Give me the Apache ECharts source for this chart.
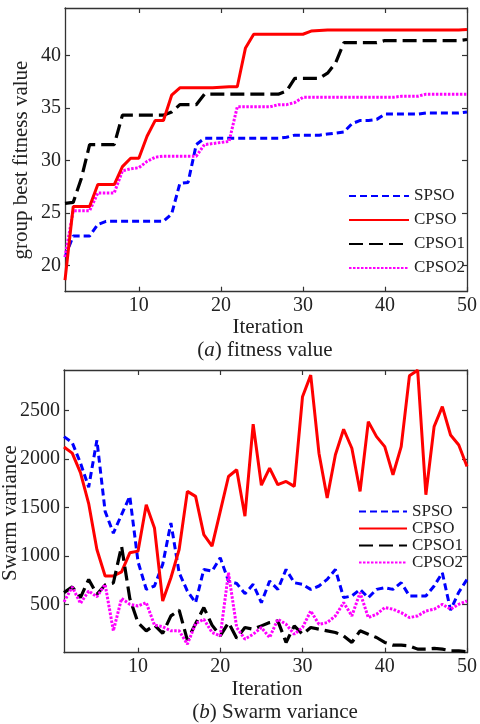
<!DOCTYPE html>
<html>
<head>
<meta charset="utf-8">
<script src="https://cdn.jsdelivr.net/npm/echarts@6/dist/echarts.min.js"></script>
<style>
  html, body { margin: 0; padding: 0; background: #fff; }
  #chart { width: 480px; height: 724px; }
</style>
</head>
<body>
<div id="chart"></div>
<script>
// 迭代次数
var iterations = [1, 2, 3, 4, 5, 6, 7, 8, 9, 10, 11, 12, 13, 14, 15, 16, 17, 18, 19, 20,
  21, 22, 23, 24, 25, 26, 27, 28, 29, 30, 31, 32, 33, 34, 35, 36, 37, 38, 39, 40,
  41, 42, 43, 44, 45, 46, 47, 48, 49, 50];
var seriesNames = ["SPSO", "CPSO", "CPSO1", "CPSO2"];
var xTicks = [10, 20, 30, 40, 50];
var fitTicks = [20, 25, 30, 35, 40];
var varTicks = [500, 1000, 1500, 2000, 2500];

// (a) fitness value
var fitSPSO = [20.8, 22.8, 22.8, 22.8, 23.9, 24.2, 24.2, 24.2, 24.2, 24.2, 24.2, 24.2, 24.2, 24.9, 27.8,
  27.9, 31.5, 32.1, 32.1, 32.1, 32.1, 32.1, 32.1, 32.1, 32.1, 32.1, 32.1, 32.2, 32.4, 32.4,
  32.4, 32.4, 32.5, 32.6, 32.7, 33.5, 33.8, 33.8, 33.9, 34.4, 34.4, 34.4, 34.4, 34.4, 34.5,
  34.5, 34.5, 34.5, 34.5, 34.6];
var fitCPSO = [18.6, 25.6, 25.6, 25.6, 27.7, 27.7, 27.7, 29.4, 30.2, 30.2, 32.3, 33.8, 33.8, 36.2, 36.9,
  36.9, 36.9, 36.9, 36.9, 36.95, 37.0, 37.0, 40.7, 42.0, 42.0, 42.0, 42.0, 42.0, 42.0, 42.0,
  42.3, 42.35, 42.4, 42.4, 42.4, 42.4, 42.4, 42.4, 42.4, 42.4, 42.4, 42.4, 42.4, 42.4, 42.4,
  42.4, 42.4, 42.4, 42.4, 42.45];
var fitCPSO1 = [25.9, 26.0, 28.3, 31.5, 31.5, 31.5, 31.5, 34.3, 34.3, 34.3, 34.3, 34.3, 34.3, 34.6, 35.3,
  35.3, 35.3, 36.3, 36.3, 36.3, 36.3, 36.3, 36.3, 36.3, 36.3, 36.3, 36.3, 36.6, 37.8, 37.8,
  37.8, 37.8, 38.3, 39.3, 41.2, 41.2, 41.2, 41.2, 41.2, 41.4, 41.4, 41.4, 41.4, 41.4, 41.4,
  41.4, 41.4, 41.4, 41.4, 41.5];
var fitCPSO2 = [20.8, 25.2, 25.2, 25.2, 26.9, 26.9, 26.9, 29.0, 29.2, 29.3, 29.9, 30.3, 30.4, 30.4, 30.4,
  30.4, 30.4, 31.5, 31.6, 31.7, 31.8, 35.1, 35.1, 35.1, 35.1, 35.1, 35.3, 35.3, 35.5, 36.0,
  36.0, 36.0, 36.0, 36.0, 36.0, 36.0, 36.0, 36.0, 36.0, 36.0, 36.0, 36.1, 36.1, 36.1, 36.3,
  36.3, 36.3, 36.3, 36.3, 36.3];

// (b) Swarm variance
var varSPSO = [2232, 2170, 1960, 1710, 2195, 1460, 1235, 1426, 1615, 940, 655, 689, 912, 1340, 826,
  637, 517, 860, 843, 980, 740, 715, 610, 706, 517, 740, 654, 860, 723, 706,
  654, 689, 757, 860, 569, 586, 654, 569, 654, 672, 654, 723, 586, 586, 586,
  689, 826, 440, 625, 757];
var varCPSO = [2125, 2061, 1860, 1540, 1066, 792, 792, 835, 1032, 1049, 1529, 1289, 534, 774, 1066,
  1666, 1615, 1220, 1100, 1460, 1820, 1890, 1410, 2360, 1730, 1906, 1735, 1769, 1718, 2644,
  2867, 2061, 1598, 2044, 2308, 2112, 1666, 2387, 2232, 2129, 1838, 2129, 2860, 2918, 1632,
  2335, 2541, 2249, 2146, 1923];
var varCPSO1 = [620, 680, 569, 757, 603, 700, 720, 1100, 560, 311, 226, 285, 200, 380, 440,
  130, 300, 466, 285, 174, 311, 150, 260, 243, 277, 311, 329, 106, 277, 191,
  260, 243, 226, 209, 174, 106, 226, 191, 157, 106, 78, 78, 71, 37, 37,
  44, 37, 20, 20, 10];
var varCPSO2 = [525, 680, 509, 637, 578, 706, 226, 560, 500, 483, 517, 285, 268, 226, 226,
  88, 300, 346, 209, 174, 826, 260, 140, 191, 260, 157, 346, 294, 191, 260,
  431, 294, 311, 380, 517, 380, 620, 363, 397, 466, 449, 414, 363, 380, 431,
  449, 500, 449, 500, 534];

var font = "Liberation Serif";
var axisColor = "#333";

var styles = [
  { color: "#0000ff", width: 3, type: [7, 4] },
  { color: "#ff0000", width: 3, type: "solid" },
  { color: "#000000", width: 3.2, type: [14, 6] },
  { color: "#ff00ff", width: 3, type: [2.5, 1.5] }
];

function pairs(arr) {
  return iterations.map(function(x, k) {
    return [x, arr[k]];
  });
}

function xAxis(grid, pos) {
  return {
    gridIndex: grid,
    type: "value",
    position: pos,
    min: 1,
    max: 50,
    axisLine: { show: true, onZero: false, lineStyle: { color: axisColor, width: 1.3 } },
    axisTick: { show: true, inside: true, length: 5, customValues: xTicks, lineStyle: { color: axisColor, width: 1.2 } },
    axisLabel: {
      show: pos === "bottom",
      customValues: xTicks,
      fontFamily: font,
      fontSize: 20,
      color: "#222",
      margin: 4
    },
    splitLine: { show: false }
  };
}

function yAxis(grid, pos, min, max, ticks) {
  return {
    gridIndex: grid,
    type: "value",
    position: pos,
    min: min,
    max: max,
    axisLine: { show: true, onZero: false, lineStyle: { color: axisColor, width: 1.3 } },
    axisTick: { show: true, inside: true, length: 5, customValues: ticks, lineStyle: { color: axisColor, width: 1.2 } },
    axisLabel: {
      show: pos === "left",
      customValues: ticks,
      formatter: function(v) { return String(v); },
      fontFamily: font,
      fontSize: 20,
      color: "#222",
      margin: 4
    },
    splitLine: { show: false }
  };
}

var fitData = [fitSPSO, fitCPSO, fitCPSO1, fitCPSO2];
var varData = [varSPSO, varCPSO, varCPSO1, varCPSO2];
var series = [];
seriesNames.forEach(function(name, k) {
  series.push({
    name: name,
    type: "line",
    xAxisIndex: 0,
    yAxisIndex: 0,
    symbol: "none",
    animation: false,
    itemStyle: { color: styles[k].color },
    lineStyle: styles[k],
    z: k === 1 ? 3 : 2,
    data: pairs(fitData[k])
  });
});
seriesNames.forEach(function(name, k) {
  series.push({
    name: name,
    type: "line",
    xAxisIndex: 2,
    yAxisIndex: 2,
    symbol: "none",
    animation: false,
    itemStyle: { color: styles[k].color },
    lineStyle: styles[k],
    data: pairs(varData[k])
  });
});

function label(text, x, y, rot) {
  return {
    type: "text",
    x: x,
    y: y,
    rotation: rot || 0,
    style: {
      text: text,
      fill: "#222",
      font: "21px " + font,
      align: "center",
      verticalAlign: "middle",
      rich: { i: { fontStyle: "italic", fontFamily: font, fontSize: 21, fill: "#222" } }
    }
  };
}

var chart = echarts.init(document.getElementById("chart"));
chart.setOption({
  backgroundColor: "#fff",
  animation: false,
  grid: [
    { left: 65, top: 8, width: 406.7, height: 283.7 },
    { left: 64, top: 370, width: 406.7, height: 282.7 }
  ],
  xAxis: [
    xAxis(0, "bottom"), xAxis(0, "top"),
    xAxis(1, "bottom"), xAxis(1, "top")
  ],
  yAxis: [
    yAxis(0, "left", 17.5, 44.5, fitTicks), yAxis(0, "right", 17.5, 44.5, fitTicks),
    yAxis(1, "left", 0, 2920, varTicks), yAxis(1, "right", 0, 2920, varTicks)
  ],
  legend: [
    {
      data: seriesNames,
      orient: "vertical",
      left: 348,
      top: 186,
      padding: 0,
      itemWidth: 60,
      itemHeight: 14,
      itemGap: 4,
      itemStyle: { opacity: 0 },
      textStyle: { fontFamily: font, fontSize: 17, color: "#222", lineHeight: 20 }
    },
    {
      data: seriesNames,
      orient: "vertical",
      left: 358,
      top: 503,
      padding: 0,
      itemWidth: 48,
      itemHeight: 10,
      itemGap: 0,
      itemStyle: { opacity: 0 },
      textStyle: { fontFamily: font, fontSize: 17, color: "#222", lineHeight: 16.5 }
    }
  ],
  graphic: [
    label("group best fitness value", 21, 160, Math.PI / 2),
    label("Iteration", 268, 327),
    label("({i|a}) fitness value", 265, 350),
    label("Swarm variance", 10, 513, Math.PI / 2),
    label("Iteration", 267, 689),
    label("({i|b}) Swarm variance", 275, 712)
  ],
  series: series
});
</script>
</body>
</html>
